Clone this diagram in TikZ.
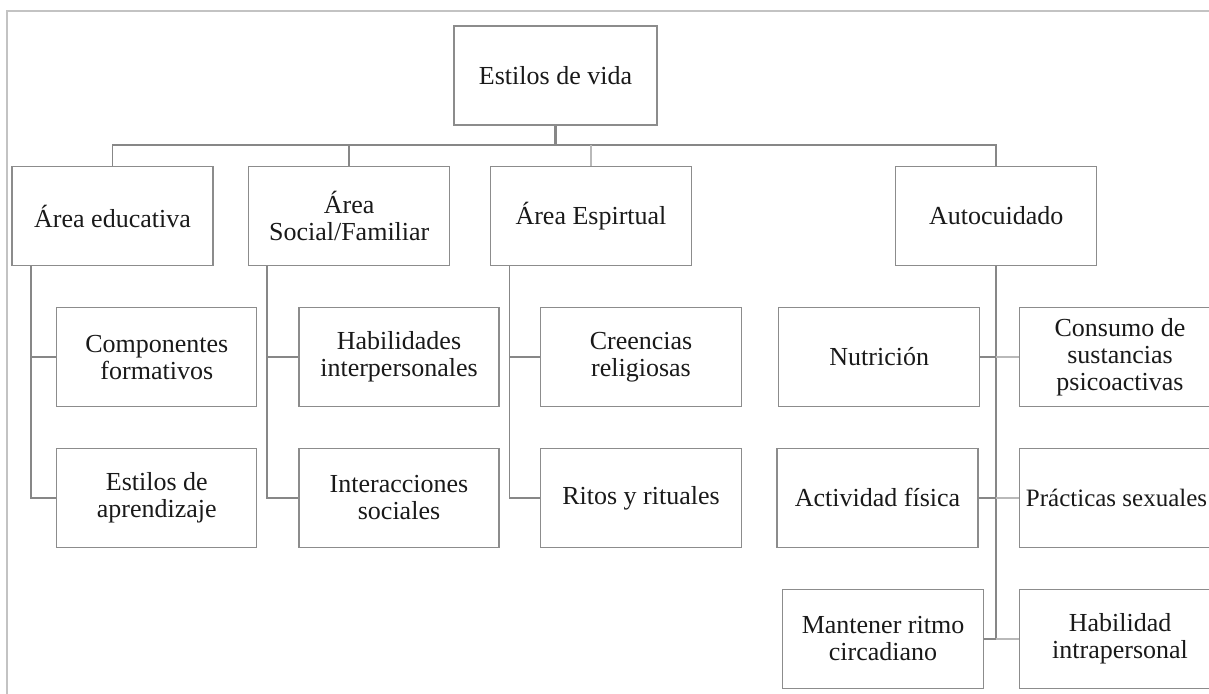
\documentclass[tikz,border=0pt]{standalone}
\usepackage{fontspec}
\setmainfont{Liberation Serif}
\definecolor{boxgray}{RGB}{140,140,140}
\definecolor{linegray}{RGB}{135,135,135}
\definecolor{lightline}{RGB}{185,185,185}
\definecolor{framegray}{RGB}{195,195,195}
\definecolor{txt}{RGB}{25,25,25}
\begin{document}
\begin{tikzpicture}[x=1pt,y=-1pt,
  bx/.style={draw=boxgray, line width=1.3pt, rectangle, minimum width=201pt, minimum height=99pt,
    inner sep=0pt, align=center, text=txt, font=\fontsize{26}{27}\selectfont},
  conn/.style={draw=linegray, line width=1.7pt},
  lconn/.style={draw=lightline, line width=1.7pt},
  frameline/.style={draw=framegray, line width=1.2pt}]
\useasboundingbox (0,0) rectangle (1209,693);
\clip (0,0) rectangle (1209,693);
% outer frame
\coordinate (fbl) at (7,700);
\coordinate (ftl) at (7,11);
\coordinate (ftr) at (1215,11);
\draw[frameline] (fbl) -- (ftl) -- (ftr);
% nodes
\node[bx, minimum width=203pt] (root) at (555.5,75.5) {Estilos de vida};
\node[bx] (educ) at (112.5,216) {Área educativa};
\node[bx] (social) at (349.2,216) {Área\\Social/Familiar};
\node[bx] (esp) at (591,216) {Área Espirtual};
\node[bx] (auto) at (996.3,216) {Autocuidado};
\node[bx, minimum width=200pt] (comp) at (156.8,357.2) {Componentes\\formativos};
\node[bx, minimum width=200pt] (estap) at (156.8,497.8) {Estilos de\\aprendizaje};
\node[bx, minimum width=200pt] (habil) at (399,357.2) {Habilidades\\interpersonales};
\node[bx, minimum width=200pt] (inter) at (399,497.8) {Interacciones\\sociales};
\node[bx] (cree) at (641,357.2) {Creencias\\religiosas};
\node[bx] (ritos) at (641,497.8) {Ritos y rituales};
\node[bx] (nutri) at (879.2,357) {Nutrición};
\node[bx] (consumo) at (1120,357) {Consumo de\\sustancias\\psicoactivas};
\node[bx] (activ) at (877.5,497.8) {Actividad física};
\node[bx, font=\fontsize{25}{27}\selectfont] (prac) at (1120,497.8) {Prácticas sexuales\hspace*{7pt}};
\node[bx] (mant) at (883,638.7) {Mantener ritmo\\circadiano};
\node[bx] (habintra) at (1120,638.7) {Habilidad\\intrapersonal};
% top level connectors
\coordinate (bus) at (555.5,145.3);
\draw[conn, line width=2.2pt] (root.south) -- (bus);
\draw[conn] (bus) -| (educ.north);
\draw[conn] (bus) -| (social.north);
\draw[conn] (bus) -| (auto.north);
\draw[lconn] (bus -| esp.north) -- (esp.north);
% educativa
\draw[conn] ([xshift=19.6pt]educ.south west) |- (comp.west);
\draw[conn] ([xshift=19.6pt]educ.south west) |- (estap.west);
% social
\draw[conn] ([xshift=19pt]social.south west) |- (habil.west);
\draw[conn] ([xshift=19pt]social.south west) |- (inter.west);
% espiritual
\draw[conn] ([xshift=19.5pt]esp.south west) |- (cree.west);
\draw[conn] ([xshift=19.5pt]esp.south west) |- (ritos.west);
% autocuidado
\draw[conn] (auto.south) |- (mant.east);
\draw[conn] (nutri.east) -- (auto.south |- nutri.east);
\draw[conn] (activ.east) -- (auto.south |- activ.east);
\draw[lconn] (auto.south |- consumo.west) -- (consumo.west);
\draw[lconn] (auto.south |- prac.west) -- (prac.west);
\draw[lconn] (auto.south |- habintra.west) -- (habintra.west);
\end{tikzpicture}
\end{document}
